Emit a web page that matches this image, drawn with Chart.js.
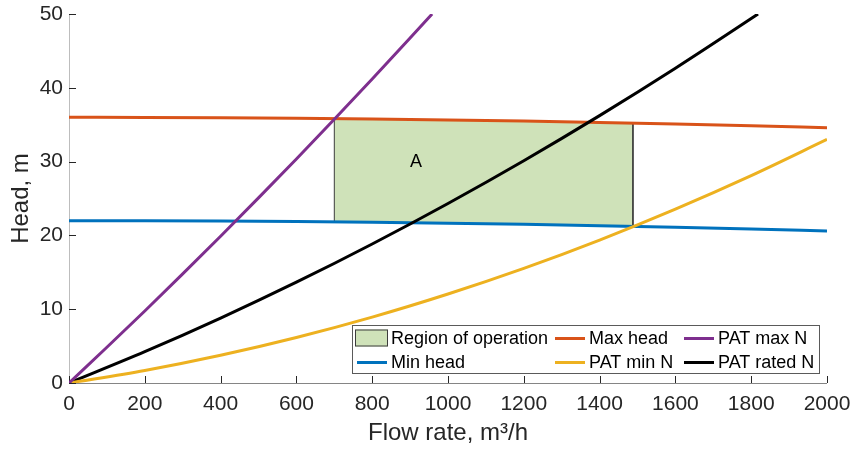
<!DOCTYPE html>
<html>
<head>
<meta charset="utf-8">
<script src="https://cdn.jsdelivr.net/npm/chart.js@4/dist/chart.umd.min.js"></script>
<style>
  html, body { margin: 0; padding: 0; background: #fff; }
  #wrap { width: 853px; height: 453px; position: relative; }
</style>
</head>
<body>
<div id="wrap"><canvas id="chart" width="853" height="453"></canvas></div>
<script>
// Head limits over the flow range (m vs m³/h)
const flowGrid = [0, 200, 400, 600, 800, 1000, 1200, 1400, 1600, 1800, 2000];
const maxHead  = [36.0, 35.99, 35.94, 35.87, 35.78, 35.65, 35.50, 35.31, 35.10, 34.87, 34.60];
const minHead  = [22.0, 21.99, 21.94, 21.87, 21.78, 21.65, 21.50, 21.31, 21.10, 20.87, 20.60];

// PAT characteristic curves at three rotational speeds
const patMinHead   = [0, 1.70, 3.76, 6.17, 8.93, 12.06, 15.53, 19.37, 23.56, 28.10, 33.0];
const patMaxFlow   = [0, 100, 200, 300, 400, 500, 600, 700, 800, 900, 958];
const patMaxHead   = [0, 4.84, 9.76, 14.78, 19.88, 25.08, 30.36, 35.73, 41.19, 46.74, 50.0];
const patRatedFlow = [0, 200, 400, 600, 800, 1000, 1200, 1400, 1600, 1800, 1818];
const patRatedHead = [0, 4.24, 8.80, 13.66, 18.84, 24.33, 30.12, 36.23, 42.65, 49.38, 50.0];

// Region of operation (between min and max head)
const regionFlow   = [700, 800, 1000, 1200, 1400, 1488];
const regionTop    = [35.83, 35.78, 35.65, 35.50, 35.31, 35.22];
const regionBottom = [21.83, 21.78, 21.65, 21.50, 21.31, 21.22];

// Region annotation
const regionLabel = 'A';
const regionLabelFlow = 900;
const regionLabelHead = 30;

// Axis ticks
const xTicks = [0, 200, 400, 600, 800, 1000, 1200, 1400, 1600, 1800, 2000];
const yTicks = [0, 10, 20, 30, 40, 50];

const legendOrder = ['Region of operation', 'Max head', 'PAT max N', 'Min head', 'PAT min N', 'PAT rated N'];

const FONT = '"Liberation Sans", Arial, Helvetica, sans-serif';
const TEXT = '#262626';

const pts = (xs, ys) => xs.map((x, i) => ({ x: x, y: ys[i] }));

const regionPolygon = pts(regionFlow, regionTop)
  .concat(pts(regionFlow.slice().reverse(), regionBottom.slice().reverse()));
regionPolygon.push({ x: regionFlow[0], y: regionTop[0] });

function curve(label, color, data, order) {
  return {
    label: label, data: data, showLine: true, borderColor: color, backgroundColor: color,
    borderWidth: 3, pointRadius: 0, pointHoverRadius: 0, fill: false,
    cubicInterpolationMode: 'monotone', order: order
  };
}

const datasets = [
  {
    label: 'Region of operation', data: regionPolygon, showLine: true,
    borderColor: '#3c3c3c', borderWidth: 1, backgroundColor: 'rgb(207,226,185)',
    pointRadius: 0, tension: 0, fill: 'shape', order: 10
  },
  curve('Max head', '#D95319', pts(flowGrid, maxHead), 5),
  curve('Min head', '#0072BD', pts(flowGrid, minHead), 5),
  curve('PAT max N', '#7E2F8E', pts(patMaxFlow, patMaxHead), 1),
  curve('PAT min N', '#EDB120', pts(flowGrid, patMinHead), 1),
  curve('PAT rated N', '#000000', pts(patRatedFlow, patRatedHead), 1)
];

// Axis lines with inward tick marks, region label and a three-column legend
const decorations = {
  id: 'decorations',
  beforeDatasetsDraw(chart) {
    const { ctx, chartArea: a, scales: { x, y } } = chart;
    ctx.save();
    ctx.lineWidth = 1;
    ctx.strokeStyle = '#bdbdbd';
    ctx.beginPath(); ctx.moveTo(a.left + 0.5, a.top); ctx.lineTo(a.left + 0.5, a.bottom); ctx.stroke();
    ctx.strokeStyle = '#858585';
    ctx.beginPath(); ctx.moveTo(a.left, a.bottom + 0.5); ctx.lineTo(a.right, a.bottom + 0.5); ctx.stroke();
    ctx.strokeStyle = TEXT;
    ctx.beginPath();
    yTicks.forEach(v => {
      const py = Math.round(y.getPixelForValue(v)) + 0.5;
      ctx.moveTo(a.left, py); ctx.lineTo(a.left + 7, py);
    });
    xTicks.forEach(v => {
      const px = Math.round(x.getPixelForValue(v)) + 0.5;
      ctx.moveTo(px, a.bottom); ctx.lineTo(px, a.bottom - 7);
    });
    ctx.stroke();
    ctx.restore();
  },
  afterDatasetsDraw(chart) {
    const { ctx, chartArea: a, scales: { x, y } } = chart;
    ctx.save();
    ctx.fillStyle = '#000';
    ctx.font = '18px ' + FONT;
    ctx.textAlign = 'left';
    ctx.textBaseline = 'middle';
    ctx.fillText(regionLabel, x.getPixelForValue(regionLabelFlow), y.getPixelForValue(regionLabelHead));

    // legend box
    const w = 467, h = 48;
    const bx = Math.round(a.right - 8 - w) + 0.5;
    const by = Math.round(a.bottom - 10 - h) + 0.5;
    ctx.fillStyle = '#fff';
    ctx.fillRect(bx, by, w, h);
    ctx.strokeStyle = '#5a5a5a';
    ctx.lineWidth = 1;
    ctx.strokeRect(bx, by, w, h);

    const colX = [bx + 2.5, bx + 200.5, bx + 329.5];
    const rowY = [by + 13, by + 37];
    ctx.font = '18px ' + FONT;
    ctx.textBaseline = 'middle';
    legendOrder.forEach((label, i) => {
      const ds = chart.data.datasets.find(d => d.label === label);
      const cx = colX[i % 3], cy = rowY[Math.floor(i / 3)];
      if (ds.fill === 'shape') {
        ctx.fillStyle = ds.backgroundColor;
        ctx.fillRect(cx, cy - 9, 33, 17);
        ctx.strokeStyle = '#3c3c3c';
        ctx.lineWidth = 1;
        ctx.strokeRect(cx + 0.5, cy - 8.5, 32, 16);
      } else {
        ctx.strokeStyle = ds.borderColor;
        ctx.lineWidth = 3;
        ctx.beginPath(); ctx.moveTo(cx + 2, cy); ctx.lineTo(cx + 32, cy); ctx.stroke();
      }
      ctx.fillStyle = '#000';
      ctx.fillText(label, cx + 36, cy + 1);
    });
    ctx.restore();
  }
};

new Chart(document.getElementById('chart'), {
  type: 'scatter',
  data: { datasets: datasets },
  options: {
    responsive: false,
    animation: false,
    events: [],
    layout: { padding: { left: 0, right: 26, top: 14, bottom: 0 } },
    plugins: { legend: { display: false }, tooltip: { enabled: false } },
    scales: {
      x: {
        type: 'linear', min: 0, max: 2000,
        afterFit: s => { s.height = 70; s.paddingLeft = 0; s.paddingRight = 0; },
        afterBuildTicks: s => { s.ticks = xTicks.map(v => ({ value: v })); },
        grid: { display: false, drawTicks: false },
        border: { display: false },
        ticks: { color: TEXT, font: { family: FONT, size: 21 }, padding: 9, maxRotation: 0, autoSkip: false,
                 callback: v => String(v) },
        title: { display: true, text: 'Flow rate, m³/h', color: TEXT, font: { family: FONT, size: 24 }, padding: { top: 0, bottom: 5 } }
      },
      y: {
        type: 'linear', min: 0, max: 50,
        afterFit: s => { s.width = 69; s.paddingTop = 0; s.paddingBottom = 0; },
        afterBuildTicks: s => { s.ticks = yTicks.map(v => ({ value: v })); },
        grid: { display: false, drawTicks: false },
        border: { display: false },
        ticks: { color: TEXT, font: { family: FONT, size: 21 }, padding: 6, callback: v => String(v) },
        title: { display: true, text: 'Head, m', color: TEXT, font: { family: FONT, size: 24 }, padding: { top: 7, bottom: 0 } }
      }
    }
  },
  plugins: [decorations]
});
</script>
</body>
</html>
